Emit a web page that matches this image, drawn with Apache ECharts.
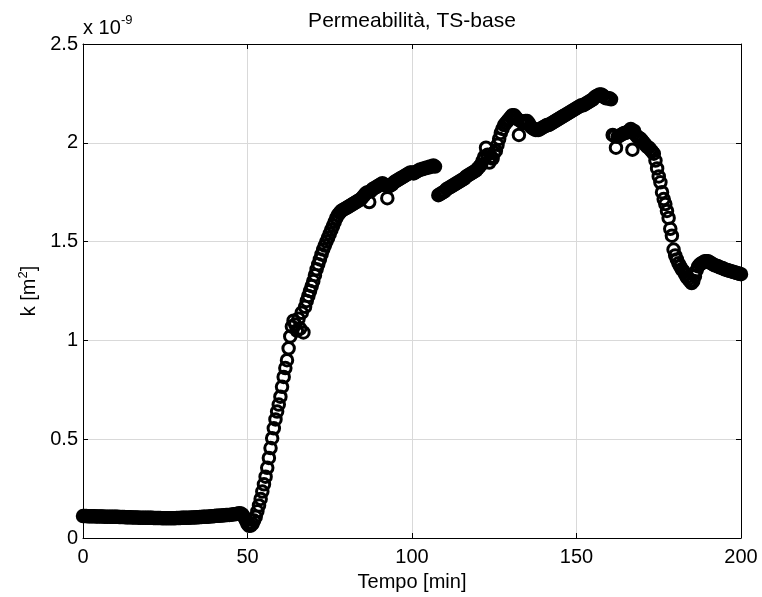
<!DOCTYPE html>
<html><head><meta charset="utf-8">
<script src="https://cdn.jsdelivr.net/npm/echarts@6/dist/echarts.min.js"></script>
<style>html,body{margin:0;padding:0;background:#fff}#c{width:762px;height:597px}</style>
</head><body><div id="c"></div>
<script>
// Permeability k [x 1e-9 m^2] vs time [min], pairs [t, k]
const segFlat=[[0,.111],[.5,.111],[1,.111],[1.5,.110],[2,.110],[2.5,.110],[3,.110],[3.5,.110],[4,.109],[4.5,.109],[5,.109],[5.5,.109],[6,.109],[6.5,.108],[7,.108],[7.5,.108],[8,.108],[8.5,.108],[9,.107],[9.5,.107],[10,.107],[10.5,.107],[11,.106],[11.5,.106],[12,.106],[12.5,.106],[13,.105],[13.5,.105],[14,.105],[14.5,.105],[15,.104],[15.5,.104],[16,.104],[16.5,.104],[17,.103],[17.5,.103],[18,.103],[18.5,.103],[19,.103],[19.5,.102],[20,.102],[20.5,.102],[21,.102],[21.5,.101],[22,.101],[22.5,.101],[23,.101],[23.5,.101],[24,.100],[24.5,.100],[25,.100],[25.5,.100],[26,.100],[26.5,.100],[27,.100],[27.5,.100],[28,.100],[28.5,.101],[29,.101],[29.5,.101],[30,.102],[30.5,.102],[31,.102],[31.5,.103],[32,.103],[32.5,.103],[33,.104],[33.5,.104],[34,.104],[34.5,.105],[35,.105],[35.5,.106],[36,.106],[36.5,.107],[37,.107],[37.5,.108],[38,.108],[38.5,.109],[39,.110],[39.5,.110],[40,.111],[40.5,.112],[41,.112],[41.5,.113],[42,.114],[42.5,.114],[43,.115],[43.5,.116],[44,.117],[44.5,.117],[45,.118],[45.5,.119],[46,.120],[46.5,.121],[47,.123],[47.5,.125],[48,.124]];
const segRise=[[48.5,.118],[49,.105],[49.5,.088],[50,.072],[50.5,.062],[51,.063],[51.5,.072],[52,.088],[52.5,.108],[53,.135],[53.5,.165],[54,.198],[54.5,.235],[55,.272],[55.5,.31],[56,.355],[56.5,.405],[57,.455],[57.5,.505],[58,.555],[58.5,.6],[59,.64],[59.5,.675],[60,.715],[60.5,.765],[61,.815],[61.5,.86],[62,.9],[62.5,.96],[63,1.02],[63.5,1.07],[64,1.1],[64.5,1.08],[65,1.05],[65.5,1.11],[66,1.06],[66.5,1.14],[67,1.04],[67.5,1.17],[68,1.2],[68.5,1.225],[69,1.25],[69.5,1.275],[70,1.3],[70.5,1.33],[71,1.36],[71.5,1.385],[72,1.41],[72.5,1.435],[73,1.46],[73.5,1.48],[74,1.5],[74.5,1.52],[75,1.54],[75.5,1.56],[76,1.58],[76.5,1.6],[77,1.62],[77.5,1.635],[78,1.645],[78.5,1.655],[79,1.66],[79.5,1.665],[80,1.67]];
const segPlateau=[[80.5,1.675],[81,1.68],[81.5,1.685],[82,1.69],[82.5,1.695],[83,1.70],[83.5,1.705],[84,1.71],[84.5,1.715],[85,1.725],[85.5,1.735],[86,1.745],[86.5,1.75],[87,1.70],[87.5,1.755],[88,1.765],[88.5,1.77],[89,1.775],[89.5,1.78],[90,1.785],[90.5,1.79],[91,1.795],[91.5,1.79],[92,1.785],[92.5,1.72],[93,1.78],[93.5,1.785],[94,1.79],[94.5,1.80],[95,1.805],[95.5,1.81],[96,1.815],[96.5,1.82],[97,1.825],[97.5,1.83],[98,1.835],[98.5,1.84],[99,1.845],[99.5,1.85],[100,1.85],[100.5,1.845],[101,1.85],[101.5,1.855],[102,1.86],[102.5,1.865],[103,1.865],[103.5,1.87],[104,1.87],[104.5,1.875],[105,1.875],[105.5,1.88],[106,1.88],[106.5,1.885],[107,1.88]];
const segSecond=[[108,1.735],[108.5,1.74],[109,1.745],[109.5,1.75],[110,1.755],[110.5,1.765],[111,1.77],[111.5,1.775],[112,1.78],[112.5,1.785],[113,1.79],[113.5,1.795],[114,1.80],[114.5,1.805],[115,1.81],[115.5,1.815],[116,1.82],[116.5,1.83],[117,1.835],[117.5,1.84],[118,1.845],[118.5,1.85],[119,1.855],[119.5,1.86],[120,1.87],[120.5,1.88],[121,1.89],[121.5,1.91],[122,1.93],[122.5,1.975],[123,1.94],[123.5,1.90],[124,1.93],[124.5,1.92],[125,1.95],[125.5,1.96],[126,1.99],[126.5,2.02],[127,2.05],[127.5,2.07],[128,2.09],[128.5,2.10],[129,2.11],[129.5,2.12],[130,2.13],[130.5,2.14],[131,2.14],[131.5,2.13],[132,2.12],[132.5,2.04],[133,2.11],[133.5,2.105],[134,2.10],[134.5,2.11],[135,2.11],[135.5,2.10],[136,2.085],[136.5,2.075],[137,2.07],[137.5,2.065],[138,2.065],[138.5,2.065],[139,2.07],[139.5,2.075],[140,2.08],[140.5,2.085],[141,2.09],[141.5,2.09],[142,2.095],[142.5,2.10],[143,2.105],[143.5,2.11],[144,2.115],[144.5,2.12],[145,2.125],[145.5,2.13],[146,2.135],[146.5,2.14],[147,2.145],[147.5,2.15],[148,2.155],[148.5,2.16],[149,2.165],[149.5,2.17],[150,2.175],[150.5,2.18],[151,2.185],[151.5,2.19],[152,2.19],[152.5,2.195],[153,2.20],[153.5,2.205],[154,2.21],[154.5,2.215],[155,2.22],[155.5,2.23],[156,2.235],[156.5,2.24],[157,2.245],[157.5,2.245],[158,2.24],[158.5,2.23],[159,2.225],[159.5,2.225],[160,2.225],[160.5,2.22]];
const segThird=[[161,2.04],[161.5,2.035],[162,1.975],[162.5,2.03],[163,2.035],[163.5,2.04],[164,2.045],[164.5,2.05],[165,2.05],[165.5,2.055],[166,2.06],[166.5,2.07],[167,1.965],[167.5,2.06],[168,2.04],[168.5,2.03],[169,2.025],[169.5,2.02],[170,2.01],[170.5,2.0],[171,1.99],[171.5,1.98],[172,1.975],[172.5,1.965],[173,1.955],[173.5,1.945],[174,1.91],[174.5,1.87],[175,1.83],[175.5,1.80],[176,1.75],[176.5,1.715],[177,1.69],[177.5,1.655],[178,1.62],[178.5,1.565],[179,1.53],[179.5,1.46],[180,1.43],[180.5,1.41],[181,1.39],[181.5,1.375],[182,1.36],[182.5,1.35],[183,1.335],[183.5,1.32],[184,1.31],[184.5,1.30],[185,1.29],[185.5,1.30],[186,1.325],[186.5,1.355],[187,1.375],[187.5,1.385],[188,1.39],[188.5,1.395],[189,1.40],[189.5,1.40],[190,1.40],[190.5,1.395],[191,1.39],[191.5,1.385],[192,1.38],[192.5,1.378],[193,1.375],[193.5,1.37],[194,1.368],[194.5,1.365],[195,1.36],[195.5,1.358],[196,1.355],[196.5,1.352],[197,1.35],[197.5,1.347],[198,1.345],[198.5,1.342],[199,1.34],[199.5,1.337],[200,1.335]];
const xRange=[0,200], xStep=50;
const yRange=[0,2.5], yStep=0.5;
const titleText='Permeabilità, TS-base';
const xName='Tempo [min]';

const FF='"Liberation Sans", Arial, Helvetica, sans-serif';
const chart=echarts.init(document.getElementById('c'),null,{renderer:'canvas'});
const axisCommon={type:'value',axisLine:{show:true,onZero:false,lineStyle:{color:'#000',width:1}},
  axisTick:{show:true,inside:true,length:5,lineStyle:{color:'#000',width:1}}};
chart.setOption({
  animation:false,
  backgroundColor:'#fff',
  grid:{left:83,right:21,top:44,bottom:59,containLabel:false,outerBoundsMode:'none'},
  xAxis:[
    Object.assign({},axisCommon,{min:xRange[0],max:xRange[1],interval:xStep,position:'bottom',
      axisLabel:{color:'#000',fontSize:20,fontFamily:FF,margin:9},
      splitLine:{show:true,lineStyle:{color:'#d9d9d9',width:1}},
      name:xName,nameLocation:'middle',nameGap:34,
      nameTextStyle:{color:'#000',fontSize:20,fontFamily:FF}}),
    Object.assign({},axisCommon,{min:xRange[0],max:xRange[1],interval:xStep,position:'top',
      axisLabel:{show:false},splitLine:{show:false}})
  ],
  yAxis:[
    Object.assign({},axisCommon,{min:yRange[0],max:yRange[1],interval:yStep,position:'left',
      axisLabel:{color:'#000',fontSize:20,fontFamily:FF,margin:5},
      splitLine:{show:true,lineStyle:{color:'#d9d9d9',width:1}},
      name:'{n|k [m}{s|2}{n|]}',nameLocation:'middle',nameGap:42,
      nameTextStyle:{color:'#000',fontFamily:FF,
        rich:{n:{fontSize:20,fontFamily:FF,color:'#000',verticalAlign:'bottom'},
              s:{fontSize:13,fontFamily:FF,color:'#000',verticalAlign:'top',padding:[0,0,9,0]}}}}),
    Object.assign({},axisCommon,{min:yRange[0],max:yRange[1],interval:yStep,position:'right',
      axisLabel:{show:false},splitLine:{show:false}})
  ],
  graphic:[
    {type:'text',x:412,y:21,style:{text:titleText,font:'21px '+FF,fill:'#000',textAlign:'center',textVerticalAlign:'middle'}},
    {type:'text',x:83,y:28,style:{text:'x 10',font:'20px '+FF,fill:'#000',textAlign:'left',textVerticalAlign:'middle'}},
    {type:'text',x:121,y:20,style:{text:'-9',font:'13px '+FF,fill:'#000',textAlign:'left',textVerticalAlign:'middle'}}
  ],
  series:[{
    type:'scatter',xAxisIndex:0,yAxisIndex:0,clip:false,silent:true,
    symbol:'circle',symbolSize:11.5,
    itemStyle:{color:'rgba(0,0,0,0)',borderColor:'#000',borderWidth:3,opacity:1},
    data:[].concat(segFlat,segRise,segPlateau,segSecond,segThird)
  }]
});
</script></body></html>
